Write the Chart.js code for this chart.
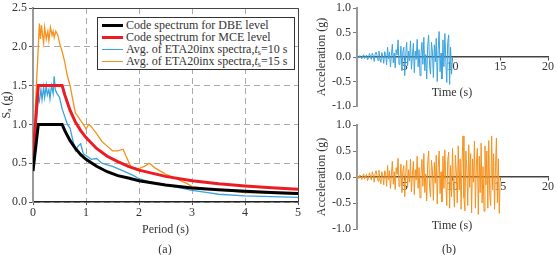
<!DOCTYPE html>
<html>
<head>
<meta charset="utf-8">
<script src="https://cdn.jsdelivr.net/npm/chart.js"></script>
<style>
  body { margin: 0; width: 557px; height: 255px; overflow: hidden; background: #fff; position: relative; font-family: 'Liberation Serif', serif; color: #333; }
  canvas { position: absolute; }
  #legend { position: absolute; left: 97px; top: 17px; width: 198px; height: 53px; box-sizing: border-box; border: 1px solid #333; background: #fff; padding-top: 1px; font-size: 12px; z-index: 2; }
  .row { height: 12px; line-height: 12px; display: flex; align-items: center; white-space: nowrap; }
  .swatch { display: inline-block; width: 21px; margin: 0 3px 0 4px; }
  sub { font-size: 8px; line-height: 0; vertical-align: -2px; }
  .cap { position: absolute; font-size: 12px; line-height: 14px; transform: translateX(-50%); white-space: nowrap; }
</style>
</head>
<body>
<canvas id="specChart" width="310" height="255" style="left:0;top:0"></canvas>
<canvas id="acc10Chart" width="245" height="114" style="left:312px;top:0"></canvas>
<canvas id="acc15Chart" width="245" height="127" style="left:312px;top:110px"></canvas>
<div id="legend"></div>
<div class="cap" style="left:165px;top:242px">(a)</div>
<div class="cap" style="left:452px;top:85px">Time (s)</div>
<div class="cap" style="left:452px;top:218px">Time (s)</div>
<div class="cap" style="left:449px;top:242px">(b)</div>
<script>
// panel (a): response spectra, Sa (g) vs period (s)
const codePeriods = [0, 0.1, 0.55, 0.6, 0.7, 0.8, 0.9, 1.0, 1.2, 1.4, 1.6, 1.8, 2.0, 2.5, 3.0, 3.5, 4.0, 4.5, 5.0];
const dbeSa = [0.4, 1.0, 1.0, 0.92, 0.79, 0.69, 0.61, 0.55, 0.46, 0.39, 0.34, 0.31, 0.275, 0.22, 0.18, 0.157, 0.138, 0.122, 0.11];
const mceSa = [0.6, 1.5, 1.5, 1.38, 1.18, 1.03, 0.92, 0.83, 0.69, 0.59, 0.52, 0.46, 0.41, 0.33, 0.275, 0.236, 0.206, 0.183, 0.165];

const avg10Periods = [0, 0.05, 0.1, 0.12, 0.15, 0.17, 0.2, 0.22, 0.25, 0.27, 0.3, 0.32, 0.35, 0.38, 0.4, 0.42, 0.45, 0.5, 0.55, 0.6, 0.65, 0.7, 0.75, 0.8, 0.85, 0.9, 0.95, 1.0, 1.1, 1.2, 1.3, 1.4, 1.5, 1.7, 1.9, 2.0, 2.2, 2.5, 2.8, 3.0, 3.3, 3.5, 4.0, 4.5, 5.0];
const avg10Sa = [0.4, 0.95, 1.35, 1.3, 1.45, 1.32, 1.48, 1.35, 1.5, 1.38, 1.45, 1.33, 1.5, 1.4, 1.62, 1.45, 1.4, 1.35, 1.2, 1.1, 1.0, 0.95, 0.8, 0.66, 0.72, 0.75, 0.62, 0.6, 0.55, 0.56, 0.5, 0.48, 0.46, 0.4, 0.34, 0.3, 0.26, 0.22, 0.18, 0.15, 0.12, 0.1, 0.08, 0.07, 0.06];

const avg15Periods = [0, 0.05, 0.1, 0.12, 0.14, 0.16, 0.18, 0.2, 0.22, 0.25, 0.28, 0.3, 0.33, 0.36, 0.38, 0.4, 0.43, 0.47, 0.5, 0.55, 0.6, 0.65, 0.7, 0.75, 0.8, 0.85, 0.9, 0.95, 1.0, 1.05, 1.1, 1.2, 1.3, 1.4, 1.5, 1.6, 1.7, 1.75, 1.85, 2.0, 2.1, 2.2, 2.3, 2.5, 2.7, 2.9, 3.0, 3.3, 3.6, 4.0, 4.5, 5.0];
const avg15Sa = [0.4, 1.3, 2.0, 2.3, 2.1, 2.28, 2.15, 2.05, 2.25, 2.1, 2.2, 2.08, 2.25, 2.15, 2.2, 2.12, 2.2, 2.15, 2.05, 1.94, 1.8, 1.62, 1.5, 1.32, 1.15, 1.1, 1.05, 1.0, 0.94, 1.0, 0.97, 0.88, 0.78, 0.72, 0.66, 0.66, 0.68, 0.6, 0.45, 0.43, 0.46, 0.5, 0.44, 0.36, 0.3, 0.24, 0.2, 0.17, 0.15, 0.12, 0.11, 0.1];

const legendHtml = [
  'Code spectrum for DBE level',
  'Code spectrum for MCE level',
  'Avg. of ETA20inx spectra,<i>t</i><sub>s</sub>=10 s',
  'Avg. of ETA20inx spectra,<i>t</i><sub>s</sub>=15 s'
];

// panel (b): acceleration time histories, one value every dt seconds
const dt = 0.1;
const acc10 = [
  0, 0.01, -0.02, 0.03, 0.01, -0.04, 0.02, 0.05, -0.03, 0.01,
  0.04, -0.06, -0.02, 0.07, 0.02, -0.05, 0.08, 0.03, -0.09, 0.06,
  0.1, 0.04, -0.07, 0.12, -0.03, -0.11, 0.09, 0.02, -0.13, 0.11,
  0.05, -0.16, 0.2, -0.04, 0.1, -0.2, 0.03, 0.26, -0.12, 0.08,
  -0.22, 0.15, 0.04, 0.35, -0.15, -0.05, 0.22, -0.28, 0.1, 0.2,
  -0.38, 0.05, 0.3, -0.18, 0.12, -0.08, 0.33, -0.25, 0.02, 0.28,
  -0.32, 0.12, -0.05, 0.36, -0.2, 0.15, -0.38, 0.04, 0.3, -0.15,
  0.4, -0.28, 0.05, -0.45, 0.22, 0.45, -0.18, -0.35, 0.3, 0.1,
  -0.42, 0.25, -0.1, 0.38, -0.5, 0.15, 0.52, -0.3, 0.08, -0.45,
  0.35, -0.2, 0.48, -0.1, -0.52, 0.3, 0.45, -0.56, 0.2, -0.35,
  0
];
const acc15 = [
  0, 0.02, -0.03, 0.04, 0.01, -0.05, 0.03, 0.06, -0.04, 0.02,
  0.05, -0.07, -0.02, 0.08, 0.03, -0.06, 0.1, 0.04, -0.1, 0.07,
  0.12, 0.03, -0.08, 0.13, -0.04, -0.13, 0.1, 0.02, -0.15, 0.12,
  0.06, -0.18, 0.22, -0.05, 0.12, -0.22, 0.04, 0.3, -0.14, 0.1,
  -0.24, 0.18, 0.05, 0.36, -0.18, -0.06, 0.25, -0.3, 0.12, 0.22,
  -0.38, 0.06, 0.32, -0.2, 0.14, -0.1, 0.34, -0.28, 0.03, 0.3,
  -0.34, 0.14, -0.06, 0.4, -0.22, 0.18, -0.4, 0.05, 0.34, -0.18,
  0.45, -0.3, 0.06, -0.46, 0.25, 0.5, -0.2, -0.38, 0.32, 0.12,
  -0.45, 0.28, -0.12, 0.42, -0.52, 0.18, 0.5, -0.32, 0.1, -0.48,
  0.4, -0.22, 0.52, -0.12, -0.55, 0.32, 0.48, -0.6, 0.22, -0.38,
  0.55, -0.15, -0.58, 0.42, 0.1, -0.5, 0.6, -0.25, 0.35, -0.62,
  0.3, 0.79, -0.4, -0.65, 0.5, 0.15, -0.55, 0.62, -0.2, 0.45,
  -0.69, 0.35, -0.1, 0.69, -0.6, 0.25, 0.55, -0.72, 0.4, -0.3,
  0.65, -0.5, 0.2, -0.66, 0.6, -0.15, 0.5, -0.6, 0.7, -0.35,
  -0.55, 0.79, -0.25, 0.45, -0.62, 0.2, 0.75, -0.5, 0.35, -0.7,
  0
];

Chart.defaults.font.family = "'Liberation Serif', serif";
Chart.defaults.font.size = 12;
Chart.defaults.color = '#333';
Chart.defaults.animation = false;

const pts = (xs, ys) => xs.map((x, i) => ({ x: x, y: ys[i] }));
const timePts = vals => vals.map((a, i) => ({ x: +(i * dt).toFixed(1), y: a }));
const tickFont = { size: 12, lineHeight: 1 };

// top and right edges of the box round panel (a)
const framePlugin = {
  id: 'frame',
  afterDraw(chart) {
    const { ctx, chartArea: a } = chart;
    ctx.save();
    ctx.strokeStyle = '#444';
    ctx.lineWidth = 1;
    ctx.beginPath();
    ctx.moveTo(a.left, a.top + 0.5);
    ctx.lineTo(a.right + 0.5, a.top + 0.5);
    ctx.lineTo(a.right + 0.5, a.bottom);
    ctx.stroke();
    ctx.restore();
  }
};

const specChart = new Chart(document.getElementById('specChart'), {
  type: 'line',
  data: {
    datasets: [
      { label: 'Code spectrum for DBE level', data: pts(codePeriods, dbeSa), borderColor: '#000000', borderWidth: 3, order: 0 },
      { label: 'Code spectrum for MCE level', data: pts(codePeriods, mceSa), borderColor: '#ec1c24', borderWidth: 3, order: 1 },
      { label: 'Avg. of ETA20inx spectra, ts=10 s', data: pts(avg10Periods, avg10Sa), borderColor: '#3aa3de', borderWidth: 1.3, order: 2 },
      { label: 'Avg. of ETA20inx spectra, ts=15 s', data: pts(avg15Periods, avg15Sa), borderColor: '#f5921e', borderWidth: 1.3, order: 3 }
    ]
  },
  options: {
    responsive: false,
    parsing: false,
    elements: { point: { radius: 0 }, line: { tension: 0 } },
    layout: { padding: { left: 0, right: 12, top: 6, bottom: 15 } },
    plugins: { legend: { display: false }, tooltip: { enabled: false } },
    scales: {
      x: {
        type: 'linear', min: 0, max: 5,
        afterFit: s => { s.height = 38; },
        ticks: { stepSize: 1, font: tickFont, padding: 2, color: '#333' },
        grid: { color: '#aaa', tickColor: '#555', tickLength: 3 },
        border: { color: '#222', width: 1.5, dash: [6, 4] },
        title: { display: true, text: 'Period (s)', font: { size: 12 }, padding: { top: 0, bottom: 3 } }
      },
      y: {
        min: 0, max: 2.5,
        afterFit: s => { s.width = 33; },
        ticks: { stepSize: 0.5, callback: v => v.toFixed(1), font: tickFont, padding: 2, color: '#333' },
        grid: { color: '#aaa', tickColor: '#555', tickLength: 4 },
        border: { color: '#999', width: 2, dash: [6, 4] },
        title: { display: true, text: 'Sₐ (g)', font: { size: 12 }, padding: 0 }
      }
    }
  },
  plugins: [framePlugin]
});

// legend drawn from the datasets
const legendBox = document.getElementById('legend');
specChart.data.datasets.forEach((ds, i) => {
  const row = document.createElement('div');
  row.className = 'row';
  row.innerHTML = `<span class="swatch" style="border-top:${ds.borderWidth}px solid ${ds.borderColor}"></span><span>${legendHtml[i]}</span>`;
  legendBox.appendChild(row);
});

function accOptions(padTop) {
  return {
    responsive: false,
    parsing: false,
    elements: { point: { radius: 0 }, line: { tension: 0 } },
    layout: { padding: { left: 0, right: 9, top: padTop, bottom: 8 } },
    plugins: { legend: { display: false }, tooltip: { enabled: false } },
    scales: {
      x: {
        type: 'linear', min: 0, max: 20, position: { y: 0 },
        ticks: { stepSize: 5, callback: v => (v === 0 ? '' : v), font: tickFont, padding: 1, color: '#333' },
        grid: { drawOnChartArea: false, tickColor: '#444', tickLength: 3 },
        border: { color: '#444', width: 1.5 }
      },
      y: {
        min: -1, max: 1,
        afterFit: s => { s.width = 45; },
        ticks: { stepSize: 0.5, callback: v => v.toFixed(1), font: tickFont, padding: 2, color: '#333' },
        grid: { drawOnChartArea: false, tickColor: '#777', tickLength: 4 },
        border: { color: '#999', width: 2 },
        title: { display: true, text: 'Acceleration (g)', font: { size: 12 }, padding: { top: 3, bottom: 0 } }
      }
    }
  };
}

new Chart(document.getElementById('acc10Chart'), {
  type: 'line',
  data: { datasets: [{ label: 'ts=10 s', data: timePts(acc10), borderColor: '#3aa3de', borderWidth: 1 }] },
  options: accOptions(6)
});

new Chart(document.getElementById('acc15Chart'), {
  type: 'line',
  data: { datasets: [{ label: 'ts=15 s', data: timePts(acc15), borderColor: '#f5921e', borderWidth: 1 }] },
  options: accOptions(15)
});
</script>
</body>
</html>
